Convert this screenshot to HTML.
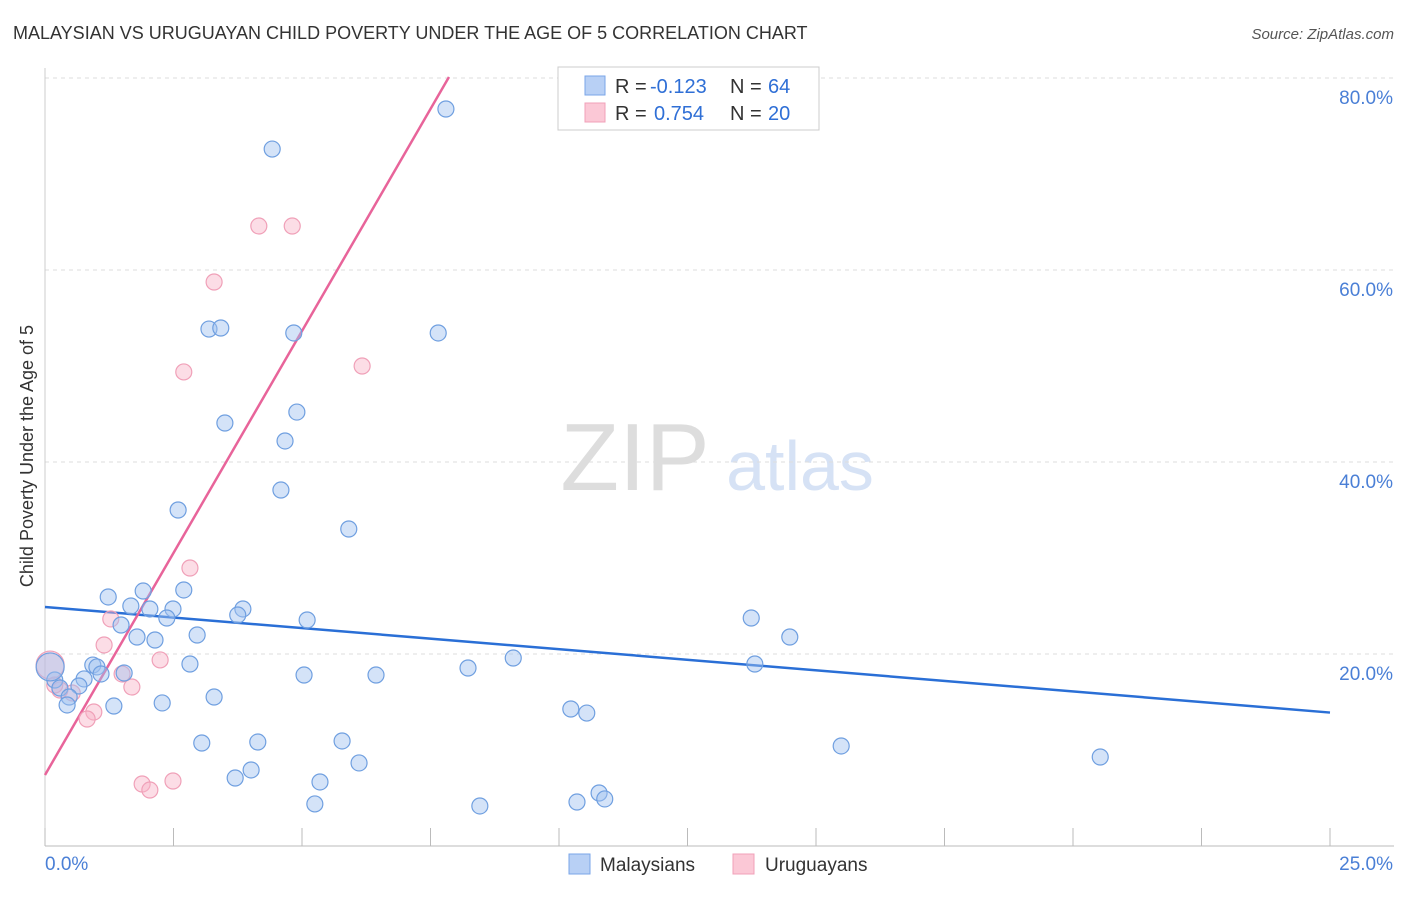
<!DOCTYPE html>
<html><head><meta charset="utf-8"><style>
body{margin:0;background:#fff;font-family:"Liberation Sans",sans-serif;}
svg text{font-family:"Liberation Sans",sans-serif;}
</style></head><body>
<svg id="chart" width="1406" height="892" xmlns="http://www.w3.org/2000/svg">
<text x="13" y="39" font-size="18" fill="#333">MALAYSIAN VS URUGUAYAN CHILD POVERTY UNDER THE AGE OF 5 CORRELATION CHART</text>
<text x="1394" y="39" font-size="15" fill="#555" text-anchor="end" font-style="italic">Source: ZipAtlas.com</text>
<text transform="translate(33,456) rotate(-90)" font-size="18" fill="#333" text-anchor="middle">Child Poverty Under the Age of 5</text>
<g>
<text x="635" y="490" font-size="96" fill="#ddd" font-family="Liberation Serif" text-anchor="middle">ZIP</text>
<text x="800" y="490" font-size="70" fill="#d6e2f5" text-anchor="middle">atlas</text>
</g>
<g id="grid"></g><g id="axes"></g><g id="lines"></g><g id="pts"></g>
<g>
<rect x="558" y="67" width="261" height="63" fill="#fff" stroke="#ccc"/>
<rect x="585" y="76" width="20" height="19" fill="#b8d0f5" stroke="#7aa6e8"/>
<rect x="585" y="103" width="20" height="19" fill="#fbc8d6" stroke="#f0a0b8"/>
<text x="615" y="93" font-size="20" fill="#333">R =</text>
<text x="650" y="93" font-size="20" fill="#2f6fd6">-0.123</text>
<text x="730" y="93" font-size="20" fill="#333">N =</text>
<text x="768" y="93" font-size="20" fill="#2f6fd6">64</text>
<text x="615" y="120" font-size="20" fill="#333">R =</text>
<text x="654" y="120" font-size="20" fill="#2f6fd6">0.754</text>
<text x="730" y="120" font-size="20" fill="#333">N =</text>
<text x="768" y="120" font-size="20" fill="#2f6fd6">20</text>
</g>
<g>
<rect x="569" y="854" width="21" height="20" fill="#b8d0f5" stroke="#7aa6e8"/>
<text x="600" y="871" font-size="19" fill="#333">Malaysians</text>
<rect x="733" y="854" width="21" height="20" fill="#fbc8d6" stroke="#f0a0b8"/>
<text x="765" y="871" font-size="19" fill="#333">Uruguayans</text>
</g>
</svg>
<script>
const blueX=[7.80,4.42,3.19,3.42,4.84,7.65,4.90,3.50,4.67,4.59,2.59,5.91,1.91,2.70,1.23,1.67,2.04,2.49,3.85,3.75,2.37,5.10,1.48,2.96,1.79,2.14,13.74,14.49,0.93,1.01,2.82,1.54,1.09,5.04,6.44,8.23,9.11,13.81,0.19,0.76,0.66,0.29,0.47,0.43,1.34,2.28,3.29,10.23,10.54,3.05,4.14,5.78,15.49,20.53,4.01,3.70,5.35,6.11,10.78,10.35,10.89,5.25,8.46,0.1];
const blueY=[76.77,72.6,53.85,53.96,53.44,53.44,45.2,44.06,42.19,37.08,35.0,33.02,26.56,26.67,25.94,25.0,24.69,24.69,24.69,24.06,23.75,23.54,23.02,21.98,21.77,21.46,23.75,21.77,18.85,18.65,18.96,18.02,17.92,17.81,17.81,18.54,19.58,18.96,17.29,17.4,16.67,16.46,15.52,14.69,14.58,14.9,15.52,14.27,13.85,10.73,10.83,10.94,10.42,9.27,7.92,7.08,6.67,8.65,5.52,4.58,4.9,4.38,4.17,18.65];
const pinkX=[4.16,4.81,3.29,2.70,6.17,2.82,1.28,1.15,2.24,1.50,1.69,0.95,0.82,0.53,0.29,1.89,2.04,2.49,0.1,0.19];
const pinkY=[64.58,64.58,58.75,49.38,50.0,28.96,23.65,20.94,19.38,17.92,16.56,13.96,13.23,15.94,16.25,6.46,5.83,6.77,18.85,16.77];
const blueTrend=[24.9,13.9]; // y at x=0 and x=25
const pinkTrend=[7.4,9.25]; // intercept, slope
const yTicks=[20,40,60,80];
const yTickLabels=["20.0%","40.0%","60.0%","80.0%"];
const xTicks=[0,2.5,5,7.5,10,12.5,15,17.5,20,22.5,25];
const NS="http://www.w3.org/2000/svg";
const sx=v=>45+v*51.4, sy=v=>846-v*9.6;
function mk(t,a,p){const e=document.createElementNS(NS,t);for(const k in a)e.setAttribute(k,a[k]);p.appendChild(e);return e;}
const grid=document.getElementById('grid'),axes=document.getElementById('axes');
yTicks.forEach((t,i)=>{
 const l=mk('line',{x1:45,x2:1394,y1:sy(t),y2:sy(t),stroke:'#ddd','stroke-dasharray':'4,4'},grid);
 
 
 const tx=mk('text',{x:1393,y:sy(t)+26,'font-size':19,fill:'#4a7fd6','text-anchor':'end'},axes);
 tx.textContent=yTickLabels[i];
 
 
});
const ax=mk('line',{x1:45,x2:1394,y1:846,y2:846,stroke:'#bbb'},axes);


const ay=mk('line',{x1:45,x2:45,y1:68,y2:846,stroke:'#ccc'},axes);


xTicks.forEach(t=>{const l=mk('line',{x1:sx(t),x2:sx(t),y1:828,y2:846,stroke:'#bbb'},axes);
 
 });
const x0=mk('text',{x:45,y:870,'font-size':19,fill:'#4a7fd6'},axes);x0.textContent="0.0%";


const x1=mk('text',{x:1393,y:870,'font-size':19,fill:'#4a7fd6','text-anchor':'end'},axes);x1.textContent="25.0%";


const pts=document.getElementById('pts');
pinkX.forEach((x,i)=>{const c=mk('circle',{cx:sx(x),cy:sy(pinkY[i]),r:i==18?14:8,fill:'rgba(248,180,200,0.45)',stroke:'#f0a0b8','stroke-width':1.2},pts);
 
 });
blueX.forEach((x,i)=>{const c=mk('circle',{cx:sx(x),cy:sy(blueY[i]),r:i==63?14:8,fill:'rgba(160,192,240,0.45)',stroke:'#6f9fe0','stroke-width':1.2},pts);
 
 });
const lines=document.getElementById('lines');
const bl=mk('line',{x1:sx(0),y1:sy(blueTrend[0]),x2:sx(25),y2:sy(blueTrend[1]),stroke:'#2a6fd6','stroke-width':2.5},lines);


const xe=(80.1-pinkTrend[0])/pinkTrend[1];
const pl=mk('line',{x1:sx(0),y1:sy(pinkTrend[0]),x2:sx(xe),y2:sy(80.1),stroke:'#e8649a','stroke-width':2.5},lines);


</script>
</body></html>
